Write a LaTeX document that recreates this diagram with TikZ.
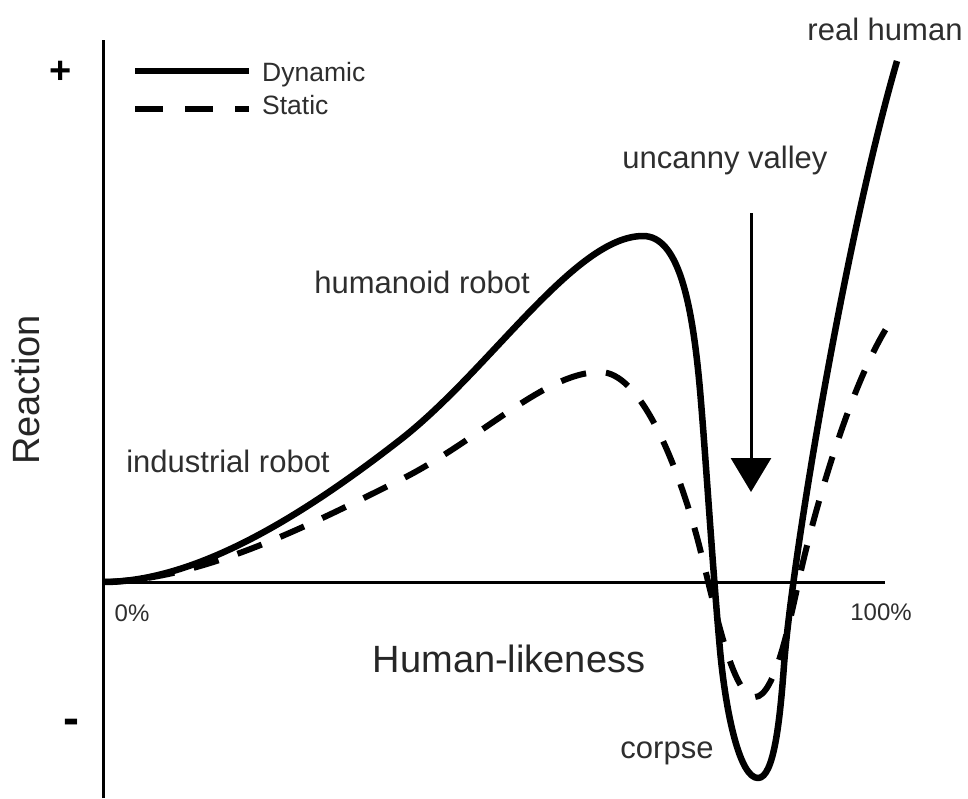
\documentclass[tikz,border=0pt]{standalone}
\usepackage{fontspec}
\setmainfont{Liberation Sans}
\usetikzlibrary{arrows.meta}
\begin{document}
\begin{tikzpicture}[x=1pt,y=-1pt,
  lbl/.style={inner sep=0pt, anchor=base, text=black!82, font=\fontsize{31}{31}\selectfont},
  smalllbl/.style={inner sep=0pt, anchor=base, text=black!82, font=\fontsize{24}{24}\selectfont},
  leglbl/.style={inner sep=0pt, anchor=base west, text=black!82, font=\fontsize{26.5}{26.5}\selectfont},
  biglbl/.style={inner sep=0pt, anchor=base, text=black!85, font=\fontsize{38}{38}\selectfont},
  signlbl/.style={inner sep=0pt, anchor=center, text=black, font=\fontsize{38}{38}\selectfont\bfseries},
  axisline/.style={line width=3pt, black},
  dyn/.style={line width=6.5pt, black},
  stat/.style={line width=6pt, black, dash pattern=on 26pt off 20pt},
  legdyn/.style={line width=5.5pt, black},
  legstat/.style={line width=5.5pt, black, dash pattern=on 28pt off 22pt},
  ]
\useasboundingbox[fill=white] (0,0) rectangle (968,798);
% axes
\coordinate (O) at (103,582);
\coordinate (ytop) at (103,40);
\coordinate (ybot) at (103,798);
\coordinate (xend) at (885,582);
\draw[axisline] (ybot) -- (ytop);
\draw[axisline] (O) -- (xend);
% axis labels
\node[signlbl] (plus) at (61,72) {+};
\node[signlbl, font=\fontsize{48}{48}\selectfont\bfseries] (minus) at (71,727) {-};
\node[smalllbl] (zero) at (132,621) {0\%};
\node[smalllbl] (hundred) at (881,620) {100\%};
\node[biglbl] (xlabel) at (509,672) {Human-likeness};
\node[biglbl, rotate=90] (ylabel) at (39,390) {Reaction};
% legend
\coordinate (l1a) at (135,71);
\coordinate (l1b) at (249,71);
\coordinate (l2a) at (135,109);
\coordinate (l2b) at (249,109);
\draw[legdyn] (l1a) -- (l1b);
\draw[legstat] (l2a) -- (l2b);
\node[leglbl] (legdynlbl) at (262,81) {Dynamic};
\node[leglbl] (legstatlbl) at (262,114) {Static};
% curve labels
\node[lbl] (realhuman) at (885,40) {real human};
\node[lbl] (uncanny) at (725,168) {uncanny valley};
\node[lbl] (humanoid) at (422,293) {humanoid robot};
\node[lbl] (industrial) at (228,472) {industrial robot};
\node[lbl] (corpse) at (667,758) {corpse};
% arrow
\coordinate (atop) at (751,213);
\coordinate (atip) at (751,492);
\draw[line width=3pt, -{Triangle[width=40pt,length=34pt]}] (atop) -- (atip);
% dynamic curve
\draw[dyn, line join=round]
  (O) .. controls (200,582) and (310,510) .. (400,440)
      .. controls (490,370) and (575,236) .. (643,236)
      .. controls (678,236) and (692,300) .. (700,390)
      .. controls (706,460) and (712,560) .. (720,650)
      .. controls (726,715) and (740,778) .. (758,778)
      .. controls (774,778) and (780,720) .. (784,665)
      .. controls (792,560) and (845,240) .. (897,61);
% static curve
\draw[stat]
  (O) .. controls (200,580) and (300,530) .. (400,480)
      .. controls (480,440) and (545,372) .. (600,372)
      .. controls (640,372) and (675,460) .. (695,530)
      .. controls (712,590) and (730,697) .. (755,697)
      .. controls (775,697) and (790,620) .. (800,575)
      .. controls (812,521) and (850,380) .. (893,318);
\end{tikzpicture}
\end{document}
